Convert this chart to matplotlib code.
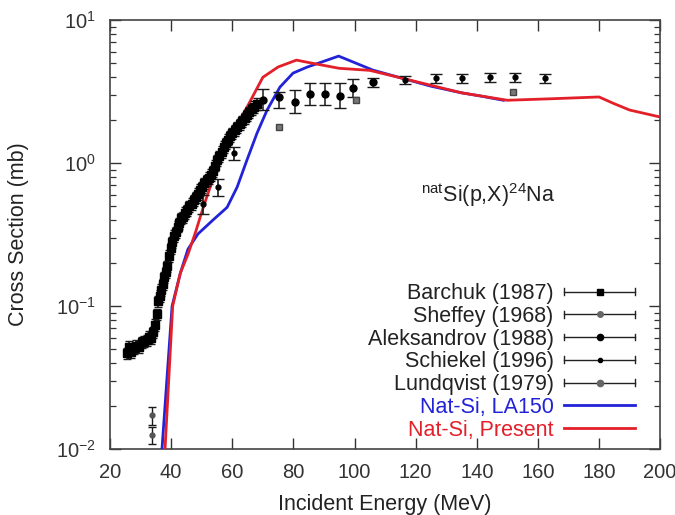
import matplotlib
matplotlib.use("Agg")
import matplotlib.pyplot as plt
from matplotlib.lines import Line2D
from matplotlib.legend_handler import HandlerBase
import numpy as np

plt.rcParams['font.family'] = ['Liberation Sans', 'DejaVu Sans']
plt.rcParams['mathtext.fontset'] = 'custom'
plt.rcParams['mathtext.rm'] = 'Liberation Sans'
plt.rcParams['mathtext.default'] = 'regular'

# ---------------- data ----------------
# Barchuk (1987)
barchuk_E = [25.5, 26.3, 27.0, 27.8, 28.6, 29.5, 30.3, 31.2, 32.0, 32.8, 33.5, 34.2,
             34.8, 35.3, 35.8, 36.3, 36.8, 37.3, 37.8, 38.3, 38.8, 39.3, 39.8, 40.3,
             40.9, 41.5, 42.1, 42.7, 43.3, 43.9, 44.6, 45.3, 46.0, 46.7, 47.4, 48.1,
             48.8, 49.5, 50.2, 50.9, 51.6, 52.3, 53.0, 53.7, 54.4, 55.1, 55.8, 56.5,
             57.2, 57.9, 58.6, 59.3, 60.0, 60.8, 61.6, 62.4, 63.2, 64.0, 64.8, 65.6,
             66.4, 67.2, 68.0]
barchuk_s = [0.047, 0.052, 0.048, 0.051, 0.053, 0.052, 0.056, 0.057, 0.058, 0.061, 0.060, 0.066,
             0.074, 0.088, 0.108, 0.118, 0.130, 0.143, 0.160, 0.172, 0.190, 0.225, 0.255, 0.280,
             0.310, 0.330, 0.360, 0.380, 0.410, 0.420, 0.450, 0.470, 0.500, 0.520, 0.550, 0.580,
             0.610, 0.650, 0.680, 0.720, 0.760, 0.790, 0.830, 0.880, 0.960, 1.05, 1.12, 1.20,
             1.30, 1.38, 1.46, 1.54, 1.62, 1.70, 1.78, 1.88, 1.97, 2.06, 2.16, 2.26,
             2.37, 2.48, 2.60]
barchuk_rel_err = 0.09

# Sheffey (1968)
sheffey_E = [33.8, 33.8]
sheffey_s = [0.0173, 0.0125]
sheffey_err = [0.0025, 0.0017]

# Aleksandrov (1988)
aleks_E = [70.0, 75.3, 80.5, 85.5, 90.4, 95.3, 99.6, 106.0]
aleks_s = [2.76, 2.90, 2.67, 3.04, 3.04, 2.94, 3.34, 3.68]
aleks_lo = [2.34, 2.43, 2.24, 2.55, 2.55, 2.43, 2.89, 3.40]
aleks_hi = [3.29, 3.14, 3.24, 3.63, 3.63, 3.63, 3.87, 3.96]

# Schiekel (1996)
schiekel_E = [50.4, 55.3, 60.6, 116.5, 126.7, 135.2, 144.4, 152.5, 162.3]
schiekel_s = [0.52, 0.68, 1.17, 3.80, 3.93, 3.93, 3.98, 3.98, 3.93]
schiekel_err = [0.08, 0.09, 0.12, 0.25, 0.28, 0.28, 0.30, 0.30, 0.28]

# Lundqvist (1979)
lundqvist_E = [75.3, 100.5, 152.0]
lundqvist_s = [1.79, 2.76, 3.15]
lundqvist_err = [0.05, 0.08, 0.09]

# Nat-Si, LA150
la150_E = [37.0, 40.3, 43.0, 45.5, 48.8, 53.7, 58.3, 61.6, 64.8, 68.1, 71.4, 75.6,
           79.9, 84.5, 94.8, 106.0, 115.0, 125.0, 135.0, 141.0, 148.7]
la150_s = [0.010, 0.10, 0.17, 0.25, 0.32, 0.40, 0.49, 0.68, 1.05, 1.62, 2.35, 3.40,
           4.26, 4.69, 5.60, 4.47, 3.95, 3.45, 3.10, 2.95, 2.75]

# Nat-Si, Present
pres_E = [38.0, 40.5, 43.0, 45.5, 48.0, 50.5, 55.0, 60.0, 65.0, 70.0, 75.0, 81.0,
          86.0, 95.0, 105.0, 115.0, 125.0, 135.0, 150.0, 165.0, 180.0, 185.0, 190.0, 200.0]
pres_s = [0.010, 0.10, 0.17, 0.23, 0.33, 0.49, 0.94, 1.60, 2.50, 3.98, 4.70, 5.25,
          5.00, 4.60, 4.45, 3.95, 3.50, 3.10, 2.75, 2.82, 2.90, 2.60, 2.35, 2.10]

xticks = [20, 40, 60, 80, 100, 120, 140, 160, 180, 200]
yticks = [0.01, 0.1, 1, 10]
yticklabels = ['10$^{-2}$', '10$^{-1}$', '10$^{0}$', '10$^{1}$']

# ---------------- plot ----------------
fig = plt.figure(figsize=(6.75, 5.15), dpi=100)
ax = fig.add_axes([0.163, 0.128, 0.815, 0.833])

BLUE = '#2222d8'
RED = '#e3202a'
EC = '#1a1a1a'

bE = np.array(barchuk_E); bs = np.array(barchuk_s)
h_bar = ax.errorbar(bE, bs, yerr=bs * barchuk_rel_err, fmt='s', ms=6, color='black',
                    ecolor=EC, elinewidth=1.2, capsize=3, zorder=4)
h_she = ax.errorbar(sheffey_E, sheffey_s, yerr=sheffey_err, fmt='o', ms=3.5, color='#555555',
                    ecolor=EC, elinewidth=1.0, capsize=3, zorder=4)
aE = np.array(aleks_E); as_ = np.array(aleks_s)
h_ale = ax.errorbar(aE, as_, yerr=[as_ - np.array(aleks_lo), np.array(aleks_hi) - as_],
                    fmt='o', ms=5, color='black', ecolor=EC, elinewidth=1.1, capsize=4, zorder=4)
h_sch = ax.errorbar(schiekel_E, schiekel_s, yerr=schiekel_err, fmt='o', ms=3.5, color='black',
                    ecolor=EC, elinewidth=1.2, capsize=4, zorder=4)
h_lun = ax.errorbar(lundqvist_E, lundqvist_s, yerr=lundqvist_err, fmt='s', ms=5, color='#777777',
                    mec='#444444', ecolor='#444444', elinewidth=1.0, capsize=2.5, zorder=4)

l_la, = ax.plot(la150_E, la150_s, color=BLUE, lw=2.0, zorder=3)
l_pr, = ax.plot(pres_E, pres_s, color=RED, lw=2.0, zorder=3)

ax.set_yscale('log')
ax.set_xlim(20, 200)
ax.set_ylim(0.01, 10)
ax.set_xticks(xticks)
ax.set_xticklabels([str(t) for t in xticks])
ax.set_yticks(yticks)
ax.set_yticklabels(yticklabels)

ax.tick_params(which='both', direction='in', top=True, right=True, colors='#333333',
               labelsize=14.5)
ax.tick_params(which='major', length=8, width=1.0, pad=10)
ax.tick_params(which='minor', length=4.5, width=0.9)
ax.tick_params(axis='x', which='minor', bottom=False, top=False)
for sp in ax.spines.values():
    sp.set_color('#444444')
    sp.set_linewidth(1.2)

ax.set_xlabel('Incident Energy (MeV)', fontsize=15.5, color='#222222')
ax.set_ylabel('Cross Section (mb)', fontsize=15.5, color='#222222')
ax.xaxis.set_label_coords(0.5, -0.104)
ax.yaxis.set_label_coords(-0.147, 0.5)

ax.text(0.687, 0.592, '$^{nat}$Si(p,X)$^{24}$Na', transform=ax.transAxes,
        ha='center', va='center', fontsize=15.5, color='#222222')


class ErrBarHandler(HandlerBase):
    def __init__(self, marker, color, ms):
        super().__init__()
        self.marker, self.color, self.ms = marker, color, ms

    def create_artists(self, legend, orig_handle, xdescent, ydescent, width, height,
                       fontsize, trans):
        y = 0.5 * height - ydescent
        x0, x1 = -xdescent, width - xdescent
        cap = 0.22 * height
        arts = [Line2D([x0, x1], [y, y], color='#222222', lw=1.0),
                Line2D([x0, x0], [y - cap, y + cap], color='#222222', lw=1.0),
                Line2D([x1, x1], [y - cap, y + cap], color='#222222', lw=1.0),
                Line2D([0.5 * (x0 + x1)], [y], marker=self.marker, color=self.color,
                       ms=self.ms, ls='none')]
        for a in arts:
            a.set_transform(trans)
        return arts


handles = [h_bar, h_she, h_ale, h_sch, h_lun, l_la, l_pr]
labels = ['Barchuk (1987)', 'Sheffey (1968)', 'Aleksandrov (1988)', 'Schiekel (1996)',
          'Lundqvist (1979)', 'Nat-Si, LA150', 'Nat-Si, Present']
hmap = {h_bar: ErrBarHandler('s', 'black', 4.5),
        h_she: ErrBarHandler('o', '#666666', 4),
        h_ale: ErrBarHandler('o', 'black', 4.5),
        h_sch: ErrBarHandler('o', 'black', 3),
        h_lun: ErrBarHandler('o', '#666666', 4.5)}
leg = ax.legend(handles, labels, handler_map=hmap, loc='lower right',
                bbox_to_anchor=(0.955, 0.02), markerfirst=False, frameon=False,
                fontsize=15.5, handlelength=3.3, handletextpad=0.5, labelspacing=0.08,
                borderpad=0.0, borderaxespad=0.0)
txts = leg.get_texts()
for t in txts:
    t.set_color('#222222')
txts[5].set_color(BLUE)
txts[6].set_color(RED)

fig.savefig('out.png', dpi=100)
